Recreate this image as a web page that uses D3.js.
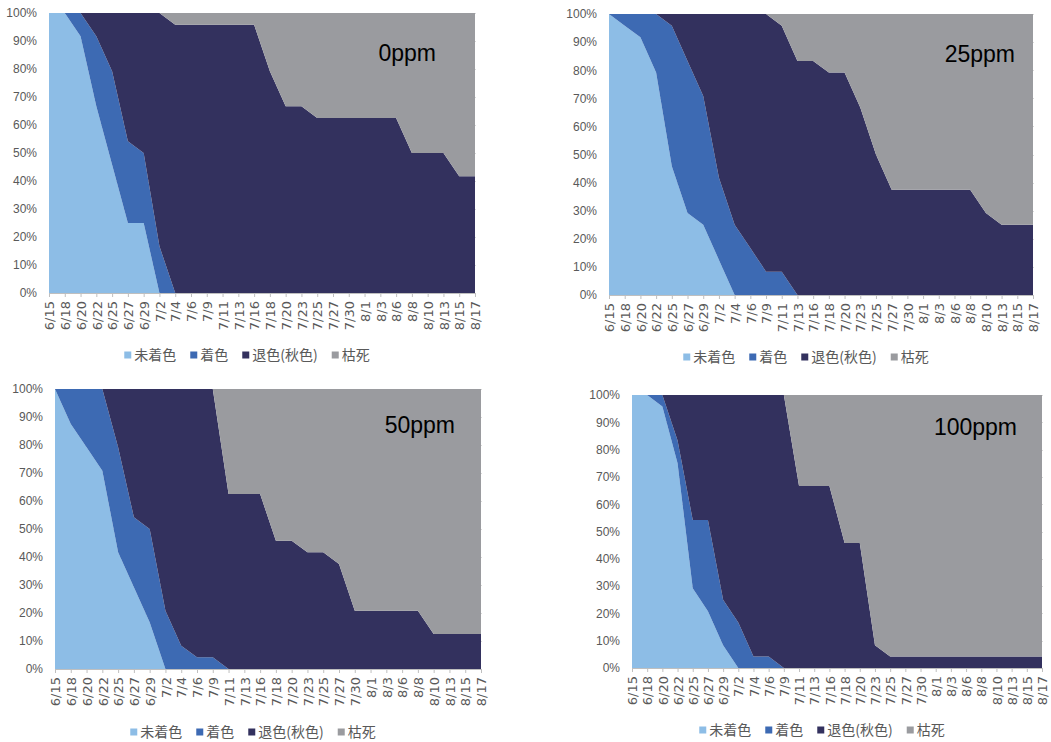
<!DOCTYPE html>
<html><head><meta charset="utf-8">
<script src="https://cdn.jsdelivr.net/npm/d3@7"></script>
<style>body{margin:0;background:#fff}svg{display:block}</style>
</head><body>
<svg id="c" width="1051" height="742"></svg>
<script>
const dates = ["6/15","6/18","6/20","6/22","6/25","6/27","6/29","7/2","7/4","7/6","7/9","7/11","7/13","7/16","7/18","7/20","7/23","7/25","7/27","7/30","8/1","8/3","8/6","8/8","8/10","8/13","8/15","8/17"];
const seriesNames = ["未着色","着色","退色(秋色)","枯死"];
const yTicks = [0,0.1,0.2,0.3,0.4,0.5,0.6,0.7,0.8,0.9,1];
const panelTitles = ["0ppm","25ppm","50ppm","100ppm"];

// values in % per series, per date
const uncolored0  = [100,100,91.7,66.7,45.8,25,25,0,0,0,0,0,0,0,0,0,0,0,0,0,0,0,0,0,0,0,0,0];
const colored0    = [0,0,8.3,25,33.4,29.2,25,16.7,0,0,0,0,0,0,0,0,0,0,0,0,0,0,0,0,0,0,0,0];
const faded0      = [0,0,0,8.3,20.8,45.8,50,83.3,95.8,95.8,95.8,95.8,95.8,95.8,79.2,66.7,66.7,62.5,62.5,62.5,62.5,62.5,62.5,50,50,50,41.7,41.7];
const dead0       = [0,0,0,0,0,0,0,0,4.2,4.2,4.2,4.2,4.2,4.2,20.8,33.3,33.3,37.5,37.5,37.5,37.5,37.5,37.5,50,50,50,58.3,58.3];

const uncolored25 = [100,95.8,91.7,79.2,45.8,29.2,25,12.5,0,0,0,0,0,0,0,0,0,0,0,0,0,0,0,0,0,0,0,0];
const colored25   = [0,4.2,8.3,20.8,50,54.1,45.8,29.2,25,16.7,8.3,8.3,0,0,0,0,0,0,0,0,0,0,0,0,0,0,0,0];
const faded25     = [0,0,0,0,4.2,16.7,29.2,58.3,75,83.3,91.7,87.5,83.3,83.3,79.2,79.2,66.7,50,37.5,37.5,37.5,37.5,37.5,37.5,29.2,25,25,25];
const dead25      = [0,0,0,0,0,0,0,0,0,0,0,4.2,16.7,16.7,20.8,20.8,33.3,50,62.5,62.5,62.5,62.5,62.5,62.5,70.8,75,75,75];

const uncolored50 = [100,87.5,79.2,70.8,41.7,29.2,16.7,0,0,0,0,0,0,0,0,0,0,0,0,0,0,0,0,0,0,0,0,0];
const colored50   = [0,12.5,20.8,29.2,37.5,25,33.3,20.8,8.3,4.2,4.2,0,0,0,0,0,0,0,0,0,0,0,0,0,0,0,0,0];
const faded50     = [0,0,0,0,20.8,45.8,50,79.2,91.7,95.8,95.8,62.5,62.5,62.5,45.8,45.8,41.7,41.7,37.5,20.8,20.8,20.8,20.8,20.8,12.5,12.5,12.5,12.5];
const dead50      = [0,0,0,0,0,0,0,0,0,0,0,37.5,37.5,37.5,54.2,54.2,58.3,58.3,62.5,79.2,79.2,79.2,79.2,79.2,87.5,87.5,87.5,87.5];

const uncolored100 = [100,100,95.8,75,29.2,20.8,8.3,0,0,0,0,0,0,0,0,0,0,0,0,0,0,0,0,0,0,0,0,0];
const colored100   = [0,0,4.2,8.3,25,33.4,16.7,16.7,4.2,4.2,0,0,0,0,0,0,0,0,0,0,0,0,0,0,0,0,0,0];
const faded100     = [0,0,0,16.7,45.8,45.8,75,83.3,95.8,95.8,100,66.7,66.7,66.7,45.8,45.8,8.3,4.2,4.2,4.2,4.2,4.2,4.2,4.2,4.2,4.2,4.2,4.2];
const dead100      = [0,0,0,0,0,0,0,0,0,0,0,33.3,33.3,33.3,54.2,54.2,91.7,95.8,95.8,95.8,95.8,95.8,95.8,95.8,95.8,95.8,95.8,95.8];

const panelData = [
  [uncolored0, colored0, faded0, dead0],
  [uncolored25, colored25, faded25, dead25],
  [uncolored50, colored50, faded50, dead50],
  [uncolored100, colored100, faded100, dead100]
];

const colors = ["#8dbde6","#3d6ab3","#33315e","#9a9b9f"];

const layouts = [
  {x0:49, x1:475, y0:13, y1:293, lx:247, ly:355, tx:436, ty:61},
  {x0:609, x1:1033, y0:14, y1:295, lx:806, ly:357, tx:1015, ty:62},
  {x0:55, x1:481, y0:389, y1:669, lx:253, ly:732, tx:455, ty:433},
  {x0:632, x1:1042, y0:395, y1:668, lx:822, ly:730, tx:1017, ty:435}
];

const svg = d3.select("#c");

panelData.forEach((series, pi) => {
  const L = layouts[pi];
  const g = svg.append("g");
  const x = d3.scalePoint().domain(dates).range([L.x0, L.x1]).padding(0);
  const y = d3.scaleLinear().domain([0,1]).range([L.y1, L.y0]);

  const rows = dates.map((d,i) => {
    const r = {date: d};
    seriesNames.forEach((s,k) => r[s] = series[k][i]);
    return r;
  });
  const stack = d3.stack().keys(seriesNames).offset(d3.stackOffsetExpand);
  const layers = stack(rows);

  // gridlines
  g.append("g").selectAll("line").data(yTicks).join("line")
    .attr("x1", L.x0).attr("x2", L.x1 + 1)
    .attr("y1", d => Math.round(y(d)) + 0.5).attr("y2", d => Math.round(y(d)) + 0.5)
    .attr("stroke", "#d9d9d9").attr("stroke-width", 1);

  const area = d3.area()
    .x(d => x(d.data.date))
    .y0(d => y(d[0]))
    .y1(d => y(d[1]));

  g.append("g").selectAll("path").data(layers).join("path")
    .attr("d", area)
    .attr("fill", (d,i) => colors[i]);

  // x axis
  const xa = d3.axisBottom(x).tickSize(4).tickSizeOuter(0);
  const xg = g.append("g").attr("transform", `translate(0,${L.y1})`).call(xa);
  xg.select(".domain").attr("stroke", "#bfbfbf");
  xg.selectAll(".tick line").attr("stroke", "#bfbfbf");
  xg.selectAll(".tick text")
    .attr("transform", "rotate(-90)")
    .attr("x", -8).attr("y", 0).attr("dy", "0.36em")
    .attr("text-anchor", "end")
    .attr("fill", "#595959")
    .style("font-family", "'DejaVu Sans', sans-serif")
    .style("font-size", "13px");

  // y axis labels
  const ya = d3.axisLeft(y).tickValues(yTicks).tickFormat(d3.format(".0%")).tickSize(0);
  const yg = g.append("g").attr("transform", `translate(${L.x0 - 12},0)`).call(ya);
  yg.select(".domain").remove();
  yg.selectAll(".tick text")
    .attr("x", 0)
    .attr("fill", "#595959")
    .style("font-family", "'Liberation Sans', Arial, sans-serif")
    .style("font-size", "12px");

  // title
  g.append("text")
    .attr("x", L.tx).attr("y", L.ty)
    .attr("text-anchor", "end")
    .attr("fill", "#000")
    .style("font-family", "'Liberation Sans', Arial, sans-serif")
    .style("font-size", "23px")
    .text(panelTitles[pi]);

  // legend
  const lg = g.append("g");
  const items = lg.selectAll("g").data(seriesNames).join("g");
  items.append("rect").attr("width", 7).attr("height", 7).attr("y", -3.5)
    .attr("fill", (d,i) => colors[i]);
  items.append("text").attr("x", 10).attr("dy", "0.35em")
    .attr("fill", "#595959")
    .style("font-family", "'Noto Sans CJK JP', sans-serif")
    .style("font-size", "14px")
    .text(d => d);
  let cx = 0;
  items.each(function() {
    const it = d3.select(this);
    it.attr("transform", `translate(${cx},0)`);
    const w = 10 + it.select("text").node().getComputedTextLength();
    cx += w + 14;
  });
  const total = cx - 14;
  lg.attr("transform", `translate(${L.lx - total/2},${L.ly})`);
});
</script>
</body></html>
